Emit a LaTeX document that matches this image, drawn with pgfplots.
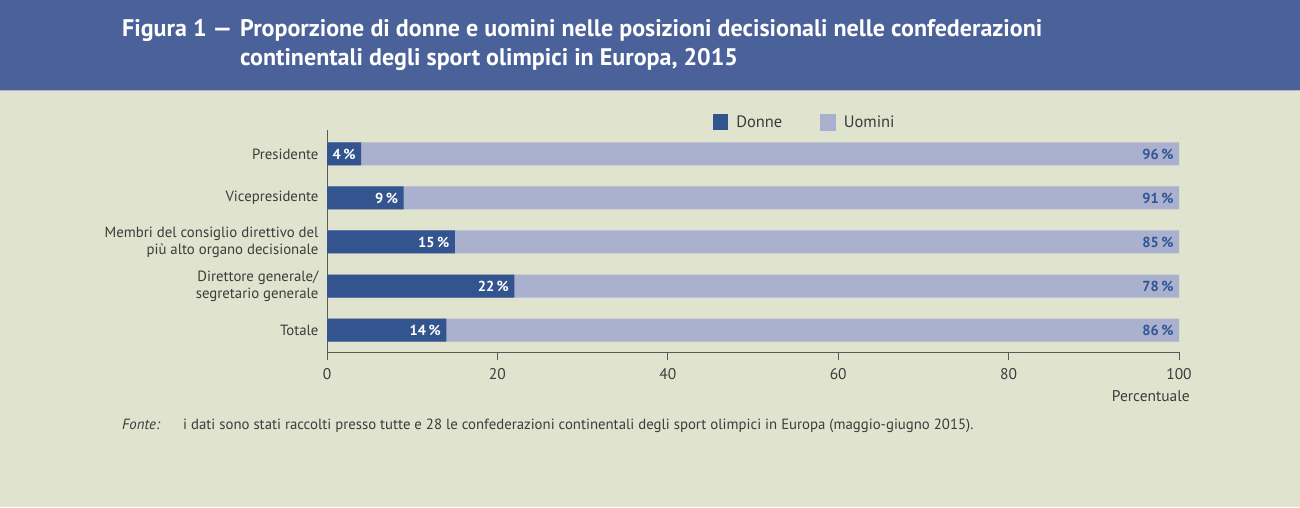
\documentclass[border=0pt]{standalone}
\usepackage{pgfplots}
\pgfplotsset{compat=1.18}
\usepackage{pgfplotstable}
\usepackage{fontspec}
\setmainfont{PT Sans}
\definecolor{bg}{HTML}{E0E3CD}
\definecolor{band}{HTML}{4A6299}
\definecolor{donne}{HTML}{33548F}
\definecolor{uomini}{HTML}{A9B1CE}
\definecolor{txt}{HTML}{3C3C3C}
\definecolor{lbl}{HTML}{2F5597}

% y: 4 = Presidente ... 0 = Totale
\pgfplotstableread{
y d u
4 4 96
3 9 91
2 15 85
1 22 78
0 14 86
}\dati

\begin{document}
\begin{tikzpicture}[x=1pt,y=1pt]
\useasboundingbox (0,0) rectangle (1300,-507);
\fill[bg] (0,0) rectangle (1300,-507);
\fill[band] (0,0) rectangle (1300,-90);
\draw[white!55!band, line width=1pt] (0,-90.5) -- (1300,-90.5);

\node[anchor=base west, text=white, font=\fontsize{24}{28}\selectfont\bfseries, inner sep=0pt]
  at (122,-36) {Figura 1 —};
\node[anchor=base west, text=white, font=\fontsize{24}{28}\selectfont\bfseries, inner sep=0pt]
  at (240,-36) {Proporzione di donne e uomini nelle posizioni decisionali nelle confederazioni};
\node[anchor=base west, text=white, font=\fontsize{24}{28}\selectfont\bfseries, inner sep=0pt]
  at (240,-65) {continentali degli sport olimpici in Europa, 2015};

\begin{axis}[
    at={(327pt,-352pt)}, anchor=south west,
    scale only axis, width=852pt, height=222pt,
    xbar, bar width=23pt, bar shift=0pt,
    xmin=0, xmax=100, ymin=-0.5, ymax=4.545,
    axis x line*=bottom, axis y line*=left,
    axis line style={draw=black!65, line width=0.8pt},
    xtick={0,20,...,100}, ytick={0,...,4},
    yticklabels={Totale,{Direttore generale/\\segretario generale},
      {Membri del consiglio direttivo del\\più alto organo decisionale},
      Vicepresidente,Presidente},
    yticklabel style={align=right, font=\fontsize{14.8}{17}\selectfont, text=txt, xshift=3pt},
    ytick style={draw=none},
    tick align=outside, major tick length=8pt,
    xtick style={draw=black!65, line width=0.8pt},
    xticklabel style={font=\fontsize{15.5}{17}\selectfont, text=txt, yshift=-5pt},
    /pgf/number format/assume math mode=true,
    xlabel={Percentuale},
    xlabel style={at={(rel axis cs:1,0)}, anchor=north east, xshift=11pt, yshift=-38pt,
      font=\fontsize{15.5}{17}\selectfont, text=txt, inner sep=0pt},
    point meta=explicit,
    nodes near coords={\pgfmathprintnumber{\pgfplotspointmeta}\kern2.5pt\%},
    legend columns=2,
    legend style={draw=none, fill=none, at={(0.561,1.036)}, anchor=center,
      font=\fontsize{16.5}{18}\selectfont, text=txt,
      /tikz/every even column/.append style={column sep=36pt}},
]
% Uomini drawn first, from 0 to Donne+Uomini (=100); Donne drawn over it
\addplot[fill=uomini, draw=none,
    every node near coord/.append style={anchor=east, xshift=-2pt, text=lbl,
      font=\fontsize{14.5}{15}\selectfont\bfseries},
    forget plot]
  table[x expr=\thisrow{d}+\thisrow{u}, y=y, meta=u] {\dati};
\addplot[fill=donne, draw=none,
    every node near coord/.append style={anchor=east, xshift=-2pt, text=white,
      font=\fontsize{14.5}{15}\selectfont\bfseries},
    legend image code/.code={\fill[donne] (0pt,-8pt) rectangle (15pt,8pt); \path (21pt,0pt);}]
  table[x=d, y=y, meta=d] {\dati};
\addlegendentry{Donne}
\addlegendimage{legend image code/.code={\fill[uomini] (0pt,-8pt) rectangle (15pt,8pt); \path (21pt,0pt);}}
\addlegendentry{Uomini}
\end{axis}

\node[anchor=base west, font=\fontsize{14.8}{16}\selectfont\itshape, text=txt, inner sep=0pt]
  at (122,-429) {Fonte:};
\node[anchor=base west, font=\fontsize{14.8}{16}\selectfont, text=txt, inner sep=0pt]
  at (183,-429) {i dati sono stati raccolti presso tutte e 28 le confederazioni continentali degli sport olimpici in Europa (maggio-giugno 2015).};
\end{tikzpicture}
\end{document}
